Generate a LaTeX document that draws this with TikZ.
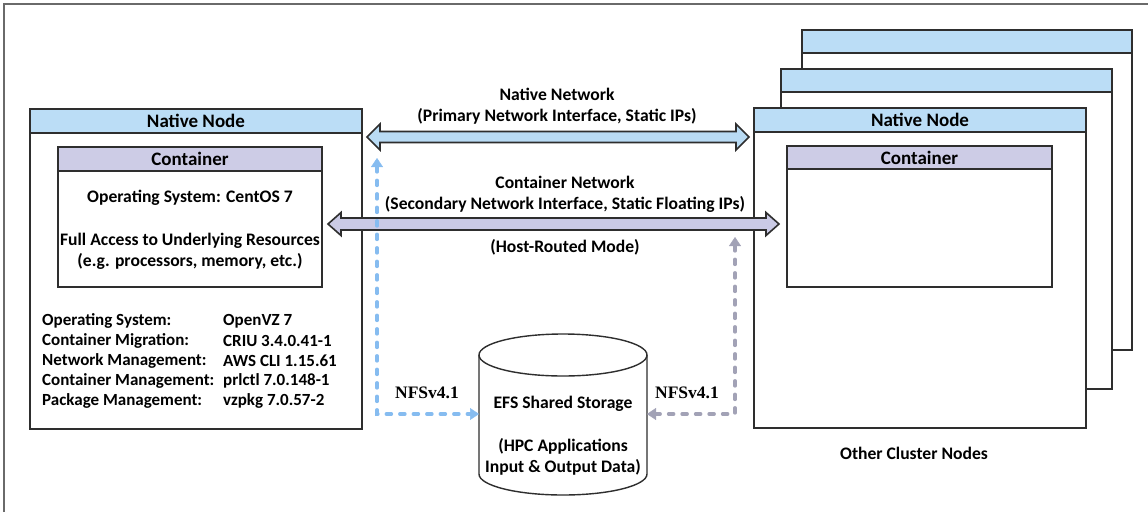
\documentclass[tikz,border=0pt]{standalone}
\usepackage{fontspec}
\setmainfont{Carlito}
\newfontfamily\nfsfont{Liberation Serif}
\usetikzlibrary{calc,arrows.meta}

\definecolor{linec}{HTML}{2E2E2E}
\definecolor{framec}{HTML}{6A6A6A}
\definecolor{nodehead}{HTML}{BBDDF6}
\definecolor{conthead}{HTML}{CDCCE6}
\definecolor{natarrow}{HTML}{B9DBF4}
\definecolor{conarrow}{HTML}{CACAE5}
\definecolor{bluedash}{HTML}{86BCF0}
\definecolor{graydash}{HTML}{A2A2B6}

\tikzset{
  lbl/.style={font=\bfseries\fontsize{17.6}{21}\selectfont, inner sep=0pt, align=center},
  spec/.style={font=\bfseries\fontsize{17}{20}\selectfont, inner sep=0pt, anchor=west},
  nfs/.style={font=\nfsfont\bfseries\fontsize{17.5}{20}\selectfont, inner sep=0pt},
  box/.style={draw=linec, line width=1.4pt, fill=white, rectangle, inner sep=0pt,
    outer sep=0pt, anchor=north west},
  headbar/.style={box, fill=#1, font=\bfseries\fontsize{19}{20}\selectfont},
  netarrow/.style={draw=linec, line width=1.6pt, fill=#1, line join=miter},
  nfsline/.style={draw=#1, line width=3.6pt, line cap=round,
    dash pattern=on 5pt off 8.5pt,
    {Triangle[width=12pt,length=9pt,color=#1,fill=#1,line width=0.5pt]}-{Triangle[width=12pt,length=9pt,color=#1,fill=#1,line width=0.5pt]}},
}

% left tip, right tip, shaft half-height, head half-height, head length
\newcommand\netarrowpath[5]{%
  let \p1=(#1), \p2=(#2) in
  (\x1,\y1) -- (\x1+#5,\y1+#4) -- (\x1+#5,\y1+#3) -- (\x2-#5,\y2+#3)
  -- (\x2-#5,\y2+#4) -- (\x2,\y2) -- (\x2-#5,\y2-#4) -- (\x2-#5,\y2-#3)
  -- (\x1+#5,\y1-#3) -- (\x1+#5,\y1-#4) -- cycle}

\begin{document}
\begin{tikzpicture}[x=1pt,y=-1pt]
\useasboundingbox (0,0) rectangle (1148,512);

% outer frame
\draw[framec, line width=1.4pt] (4,512) -- (4,4) -- (1148,4);

% ---------- local native node ----------
\node[box, minimum width=332pt, minimum height=320pt] (nn1) at (30,109) {};
\node[headbar=nodehead, minimum width=332pt, minimum height=24pt] (nn1h) at (30,109) {Native Node};
\node[box, minimum width=264pt, minimum height=140pt] (ct1) at (58,147) {};
\node[headbar=conthead, minimum width=264pt, minimum height=24pt] (ct1h) at (58,147) {Container};

\node[lbl] (os1) at (190,198) {Operating System: CentOS 7};
\node[lbl] (acc) at (190,251.5) {Full Access to Underlying Resources\\(e.g. processors, memory, etc.)};

\node[spec] (s1) at (42,321) {Operating System:};
\node[spec] (s2) at (42,341) {Container Migration:};
\node[spec] (s3) at (42,361) {Network Management:};
\node[spec] (s4) at (42,381) {Container Management:};
\node[spec] (s5) at (42,401) {Package Management:};
\node[spec] (v1) at (223,321) {OpenVZ 7};
\node[spec] (v2) at (223,341) {CRIU 3.4.0.41-1};
\node[spec] (v3) at (223,361) {AWS CLI 1.15.61};
\node[spec] (v4) at (223,381) {prlctl 7.0.148-1};
\node[spec] (v5) at (223,401) {vzpkg 7.0.57-2};

% ---------- stack of other cluster nodes ----------
\node[box, minimum width=330pt, minimum height=320pt] (bk2) at (802,30) {};
\node[headbar=nodehead, minimum width=330pt, minimum height=23pt] (bk2h) at (802,30) {};
\node[box, minimum width=331pt, minimum height=320pt] (bk1) at (781,69) {};
\node[headbar=nodehead, minimum width=331pt, minimum height=23pt] (bk1h) at (781,69) {};
\node[box, minimum width=332pt, minimum height=320pt] (nn2) at (754,108) {};
\node[headbar=nodehead, minimum width=332pt, minimum height=24pt] (nn2h) at (754,108) {Native Node};
\node[box, minimum width=265pt, minimum height=141pt] (ct2) at (787,146) {};
\node[headbar=conthead, minimum width=265pt, minimum height=23pt] (ct2h) at (787,146) {Container};
\node[lbl] (other) at (914,453) {Other Cluster Nodes};

% ---------- shared storage ----------
\node[minimum width=168pt, minimum height=162pt, inner sep=0pt, outer sep=0pt] (efs) at (563,414) {};
\draw[linec, line width=1.4pt, fill=white]
  (efs.west |- 0,355) -- (efs.west |- 0,474)
  arc[start angle=180, end angle=360, x radius=84pt, y radius=21pt]
  -- (efs.east |- 0,355);
\draw[linec, line width=1.4pt, fill=white] (563,355) ellipse [x radius=84pt, y radius=21pt];
\node[lbl] (efst) at (563,404) {EFS Shared Storage};
\node[lbl] (efsd) at (563,456.5) {(HPC Applications\\Input \& Output Data)};

% ---------- networks ----------
\coordinate (natL) at ($(nn1.north east)+(5,28)$);
\coordinate (natR) at ($(nn2.north west)+(-5,29)$);
\coordinate (conL) at ($(ct1.north east)+(6,77)$);
\coordinate (conR) at ($(ct2.north west)+(-8,78)$);

\path[netarrow=natarrow] \netarrowpath{natL}{natR}{5.5pt}{13pt}{13pt};
\path[netarrow=conarrow] \netarrowpath{conL}{conR}{6pt}{11.5pt}{13pt};

\node[lbl] (natlbl) at (557,106.5) {Native Network\\(Primary Network Interface, Static IPs)};
\node[lbl] (conlbl) at (565,194) {Container Network\\(Secondary Network Interface, Static Floating IPs)};
\node[lbl] (hostr) at (565,247) {(Host-Routed Mode)};

% ---------- NFS mounts ----------
\coordinate (nfsA) at ($(natL)+(10,21)$);
\coordinate (nfsB) at ($(conR)+(-44,13)$);
\draw[nfsline=bluedash] (nfsA) |- (efs.west);
\draw[nfsline=graydash] (nfsB) |- (efs.east);
\node[nfs] (nfsl) at (427,393) {NFSv4.1};
\node[nfs] (nfsr) at (687,393) {NFSv4.1};
\end{tikzpicture}
\end{document}
